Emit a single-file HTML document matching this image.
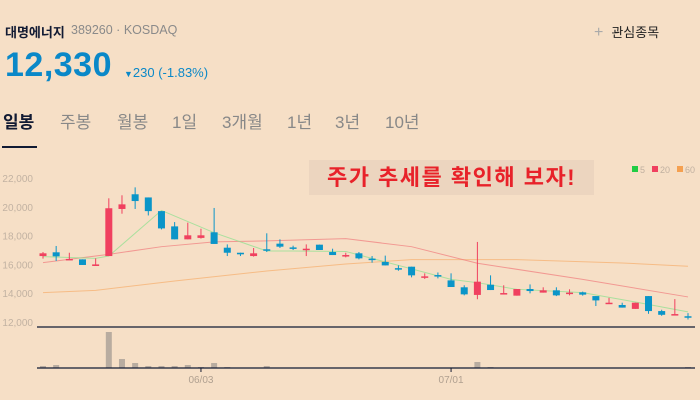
<!DOCTYPE html>
<html><head><meta charset="utf-8"><style>
body{margin:0;width:700px;height:400px;background:#f6dfc6;font-family:"Liberation Sans","Noto Sans CJK KR",sans-serif;overflow:hidden;position:relative}
.a{position:absolute;white-space:nowrap}
.tab{position:absolute;top:108px;font-size:17px;color:#888;white-space:nowrap}
</style></head><body>
<div class="a" style="left:5px;top:22px;font-size:13px;font-weight:bold;color:#111a33">대명에너지</div>
<div class="a" style="left:71px;top:23px;font-size:12.5px;color:#8a8a8a">389260 · KOSDAQ</div>
<div class="a" style="left:594px;top:22px;font-size:13px;color:#222"><span style="color:#aaa;font-size:16px;margin-right:8px">+</span>관심종목</div>
<div class="a" style="left:5px;top:46px;font-size:34px;font-weight:bold;color:#0a88c8;letter-spacing:0.5px">12,330</div>
<div class="a" style="left:124px;top:65px;font-size:13px;color:#0a88c8"><span style="font-size:9px">▼</span>230 (-1.83%)</div>
<div>
<span class="tab" style="left:3px;color:#111a33;font-weight:bold">일봉</span>
<span class="tab" style="left:60px">주봉</span>
<span class="tab" style="left:117px">월봉</span>
<span class="tab" style="left:172px">1일</span>
<span class="tab" style="left:222px">3개월</span>
<span class="tab" style="left:287px">1년</span>
<span class="tab" style="left:335px">3년</span>
<span class="tab" style="left:385px">10년</span>
</div>
<div class="a" style="left:2px;top:146px;width:35px;height:2px;background:#111a33"></div>
<div class="a" style="left:309px;top:160px;width:285px;height:35px;background:#ecd5bf;color:#e8222a;font-size:22px;font-weight:bold;line-height:35px;text-align:center;letter-spacing:1.5px">주가 추세를 확인해 보자!</div>
<svg id="chart" class="a" style="left:0;top:0" width="700" height="400"></svg>
<script>
const opens=[16580,16840,16330,16350,15890,16580,19850,20870,20650,19700,18640,17740,17840,18230,17160,16810,16580,17050,17440,17180,17050,17370,16860,16630,16770,16400,16170,15740,15840,15120,15260,14890,14410,13880,14590,13970,13830,14290,14040,14200,13990,14060,13800,13320,13180,12910,13800,12760,12500,12400];
const closes=[16770,16560,16380,15960,16000,19900,20170,20400,19700,18500,17740,18020,18020,17420,16810,16700,16770,16950,17230,17140,17090,17000,16650,16650,16420,16380,15930,15700,15240,15170,15190,14430,13920,14800,14220,14010,14290,14150,14200,13850,14040,13900,13500,13340,13000,13340,12760,12500,12550,12330];
const highs=[16860,17280,16810,16350,16420,20590,20800,21350,20650,19700,18940,18900,18480,19920,17390,16810,17140,18160,17740,17300,17390,17370,17090,16810,16860,16580,16610,15930,15840,15380,15440,15380,14550,17560,15240,14550,14290,14610,14410,14410,14270,14110,13800,13680,13340,13340,13800,12850,13590,12620];
const lows=[16400,16240,16330,15960,15890,16580,19520,19850,19400,18430,17740,17740,17790,17420,16580,16580,16540,16860,17140,17000,16580,17000,16650,16490,16350,16120,15930,15560,15100,14990,15030,14430,13850,13580,14220,13970,13830,13990,14040,13800,13850,13830,13110,13320,13000,12910,12570,12430,12500,12170];
const volumes=[2,3,0.5,0.5,0.5,36,9,5,2,2,2,3,1,5,1,0.5,0.5,2,0.5,0.5,0.5,0.5,0.5,0.5,0.5,0.5,0.5,0.5,0.5,0.5,0.5,0.5,0.5,6,1,0.5,0.5,0.5,0.5,0.5,0.5,0.5,0.5,0.5,0.5,0.5,0.5,0.5,0.5,1];
const ma5Idx=[0,4,5,9,13,17,19,23,31,33,36,41,45,49];
const ma5Val=[16540,16420,16580,19750,18200,16930,16930,16900,14960,14730,14270,14040,13390,12700];
const ma20Idx=[0,5,9,13,17,23,28,33,41,49];
const ma20Val=[16120,16700,17230,17560,17630,17790,17230,16080,14960,13740];
const ma60Idx=[0,4,10,17,23,28,36,44,49];
const ma60Val=[14040,14200,14850,15540,16030,16330,16330,16100,15870];
const yTicks=[12000,14000,16000,18000,20000,22000];
const dateIdx=[12,31];
const dateLabels=["06/03","07/01"];
const NS="http://www.w3.org/2000/svg",svg=document.getElementById('chart');
const X=i=>43+i*(645/49);
const Y=p=>322-(p-12000)*0.0144;
const V=v=>368-v;
function mk(t,a){const e=document.createElementNS(NS,t);for(const k in a)e.setAttribute(k,a[k]);svg.appendChild(e);return e;}
yTicks.forEach(t=>{const e=mk('text',{x:33,y:Y(t)+4,'text-anchor':'end','font-size':10,fill:'#c2b2a2'});e.textContent=t.toLocaleString('en-US');

});
function line(idx,val,col,name){const d=idx.map((i,k)=>(k?'L':'M')+X(i)+','+Y(val[k])).join('');const e=mk('path',{d:d,fill:'none',stroke:col,'stroke-width':1,opacity:0.75});

}
line(ma60Idx,ma60Val,'#f5b070','ma60-line');
line(ma20Idx,ma20Val,'#f08080','ma20-line');
line(ma5Idx,ma5Val,'#90e090','ma5-line');
opens.forEach((o,i)=>{const c=closes[i],up=c>=o,col=up?'#f0405f':'#0a95c8',x=X(i);
const w=mk('line',{x1:x,x2:x,y1:Y(highs[i]),y2:Y(lows[i]),stroke:col,'stroke-width':1});


const top=Y(Math.max(o,c)),h=Math.max(1.5,Math.abs(Y(o)-Y(c)));
const b=mk('rect',{x:x-3.5,y:top,width:7,height:h,fill:col});


const v=mk('rect',{x:x-3,y:V(volumes[i]),width:6,height:volumes[i],fill:'#b8aca0'});

});
const s1=mk('line',{x1:37,x2:695,y1:327,y2:327,stroke:'#111a33','stroke-width':1.2});


const s2=mk('line',{x1:37,x2:695,y1:368,y2:368,stroke:'#111a33','stroke-width':1.2});


dateIdx.forEach((i,k)=>{const x=X(i);mk('line',{x1:x,x2:x,y1:368,y2:372,stroke:'#111a33'});
const t=mk('text',{x:x,y:383,'text-anchor':'middle','font-size':10,fill:'#b0a090'});t.textContent=dateLabels[k];

});
[['5','#22cc44',632],['20','#f0405f',652],['60','#f5a050',677]].forEach(l=>{mk('rect',{x:l[2],y:166,width:6,height:6,fill:l[1]});
const t=mk('text',{x:l[2]+8,y:173,'font-size':9,fill:'#c0b0a0'});t.textContent=l[0];

});
</script>
</body></html>
